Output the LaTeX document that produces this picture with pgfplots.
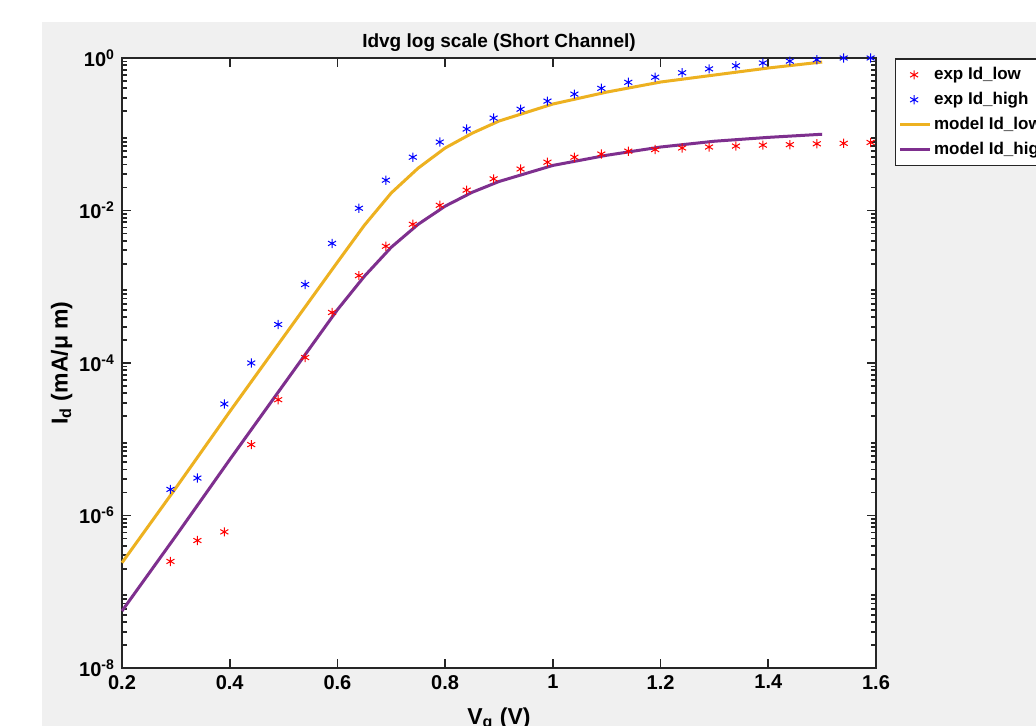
\documentclass[border=0pt]{standalone}
\usepackage{fontspec}
\setmainfont{Liberation Sans}
\usepackage{pgfplots}
\pgfplotsset{compat=1.18}
\definecolor{mlyellow}{rgb}{0.929,0.694,0.125}
\definecolor{mlpurple}{rgb}{0.494,0.184,0.556}
\definecolor{figgray}{rgb}{0.94,0.94,0.94}
\definecolor{axgray}{rgb}{0.15,0.15,0.15}

% minor log ticks 2..9 in every decade
\def\minorlist{2e-8}
\foreach \e in {-8,...,-1}{\foreach \m in {3,...,9}{\xdef\minorlist{\minorlist,\m e\e}}}
\foreach \e in {-7,...,-1}{\xdef\minorlist{\minorlist,2e\e}}

\pgfplotsset{
  markleg/.style={legend image code/.code={\draw[##1] plot[only marks] coordinates {(7pt,0pt)};}},
  lineleg/.style={legend image code/.code={\draw[##1] (0pt,0pt) -- (15pt,0pt);}},
}

\begin{document}
\begin{tikzpicture}
\clip (-61pt,-29pt) rectangle (457pt,334pt);
\fill[white] (-61pt,-29pt) rectangle (457pt,334pt);
\fill[figgray] (-40pt,-29pt) rectangle (457pt,323pt);
\begin{axis}[
at={(0pt,0pt)}, anchor=south west,
scale only axis, width=377pt, height=305pt,
axis background/.style={fill=white},
ymode=log,
xmin=0.2, xmax=1.6, ymin=1e-8, ymax=1,
xtick={0.2,0.4,0.6,0.8,1,1.2,1.4,1.6},
ytick={1e-8,1e-6,1e-4,1e-2,1},
yticklabels={10\textsuperscript{-8},10\textsuperscript{-6},10\textsuperscript{-4},10\textsuperscript{-2},10\textsuperscript{0}},
minor ytick/.expanded={\minorlist},
/pgf/number format/assume math mode=true,
tick label style={font=\fontsize{10}{12}\selectfont\bfseries, text=black},
major tick length=4.5pt, minor tick length=2.5pt,
every tick/.style={axgray, line width=0.9pt},
axis line style={axgray, line width=1pt},
clip=false,
every axis title shift=0pt,
title={Idvg log scale (Short Channel)},
title style={font=\fontsize{9.5}{11}\selectfont\bfseries, at={(axis description cs:0.5,1.026)}, anchor=center},
xlabel={V\textsubscript{g} (V)},
ylabel={I\textsubscript{d} (mA/μ m)},
xlabel style={font=\fontsize{11.5}{13}\selectfont\bfseries, at={(axis description cs:0.5,-0.084)}, anchor=center},
ylabel style={font=\fontsize{11.5}{13}\selectfont\bfseries, at={(axis description cs:-0.08,0.5)}, anchor=center, rotate=0},
legend style={at={(rel axis cs:1.025,1.0)}, anchor=north west,
  font=\fontsize{8.5}{10}\selectfont\bfseries, draw=axgray, line width=0.8pt,
  fill=white, row sep=2.4pt, inner xsep=1.5pt, inner ysep=3pt, nodes={inner sep=1.2pt}, cells={anchor=west}},
legend cell align=left,
]
\addplot[only marks, mark=asterisk, mark size=2.3pt, color=red, mark options={line width=0.5pt}, markleg] coordinates {
(0.29,2.5e-7)(0.34,4.7e-7)(0.39,6.1e-7)(0.44,8.5e-6)(0.49,3.3e-5)(0.54,1.18e-4)
(0.59,4.6e-4)(0.64,1.4e-3)(0.69,3.4e-3)(0.74,6.6e-3)(0.79,1.17e-2)(0.84,1.85e-2)
(0.89,2.6e-2)(0.94,3.5e-2)(0.99,4.3e-2)(1.04,5.0e-2)(1.09,5.5e-2)(1.14,6.0e-2)
(1.19,6.3e-2)(1.24,6.6e-2)(1.29,6.8e-2)(1.34,7.0e-2)(1.39,7.2e-2)(1.44,7.3e-2)
(1.49,7.5e-2)(1.54,7.6e-2)(1.59,7.8e-2)
};
\addlegendentry{exp Id\_low}
\addplot[only marks, mark=asterisk, mark size=2.3pt, color=blue, mark options={line width=0.5pt}, markleg] coordinates {
(0.29,2.2e-6)(0.34,3.1e-6)(0.39,2.9e-5)(0.44,1.0e-4)(0.49,3.2e-4)(0.54,1.07e-3)
(0.59,3.7e-3)(0.64,1.07e-2)(0.69,2.5e-2)(0.74,5.0e-2)(0.79,7.9e-2)(0.84,0.117)
(0.89,0.163)(0.94,0.213)(0.99,0.272)(1.04,0.336)(1.09,0.40)(1.14,0.48)
(1.19,0.56)(1.24,0.64)(1.29,0.72)(1.34,0.79)(1.39,0.86)(1.44,0.91)
(1.49,0.95)(1.54,1.0)(1.59,1.0)
};
\addlegendentry{exp Id\_high}
\addplot[mlyellow, line width=1.5pt, line join=round, lineleg] coordinates {
(0.2,2.4e-7)(0.3,2.3e-6)(0.4,2.3e-5)(0.5,2.2e-4)(0.6,2.1e-3)(0.65,6.4e-3)
(0.7,1.7e-2)(0.75,3.6e-2)(0.8,6.6e-2)(0.85,0.103)(0.9,0.149)(1.0,0.249)
(1.1,0.357)(1.2,0.484)(1.3,0.598)(1.4,0.739)(1.5,0.886)
};
\addlegendentry{model Id\_low}
\addplot[mlpurple, line width=1.5pt, line join=round, lineleg] coordinates {
(0.2,5.6e-8)(0.3,5.4e-7)(0.4,5.4e-6)(0.5,5.2e-5)(0.6,5.0e-4)(0.65,1.37e-3)
(0.7,3.3e-3)(0.75,6.6e-3)(0.8,1.14e-2)(0.85,1.73e-2)(0.9,2.4e-2)(1.0,3.9e-2)
(1.1,5.3e-2)(1.2,6.8e-2)(1.3,8.1e-2)(1.4,9.1e-2)(1.5,0.1)
};
\addlegendentry{model Id\_high}
\end{axis}
\end{tikzpicture}
\end{document}
